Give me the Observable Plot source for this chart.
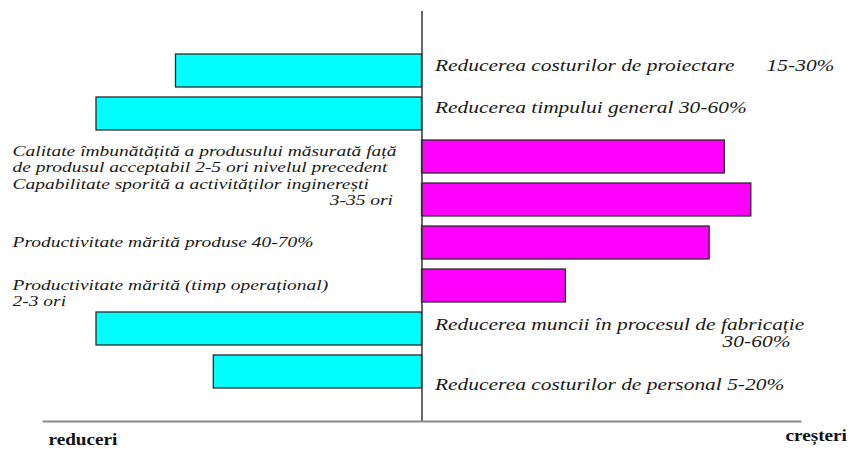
<!DOCTYPE html>
<html>
<head>
<meta charset="utf-8">
<script src="https://cdn.jsdelivr.net/npm/d3@7"></script>
<script src="https://cdn.jsdelivr.net/npm/@observablehq/plot@0.6"></script>
<style>
  html, body { margin: 0; padding: 0; background: #fff; }
</style>
</head>
<body>
<div id="chart"></div>
<script>
// Effects of computer-integrated engineering: reductions (left, cyan) vs. increases (right, magenta)
const labels = [
  "Reducerea costurilor de proiectare\u00a0\u00a0\u00a0\u00a0\u00a0\u00a015-30%",
  "Reducerea timpului general 30-60%",
  "Calitate îmbunătățită a produsului măsurată față\nde produsul acceptabil 2-5 ori nivelul precedent",
  "Capabilitate sporită a activităților inginerești",
  "Productivitate mărită produse 40-70%",
  "Productivitate mărită (timp operațional)\n2-3 ori",
  "Reducerea muncii în procesul de fabricație",
  "Reducerea costurilor de personal 5-20%"
];
// relative magnitude of each effect (negative = reduction, positive = increase)
const values = [-65, -86, 80, 87, 76, 38, -86, -55];
// right-aligned continuation line under some labels
const suffixes = ["", "", "", "3-35 ori", "", "", "30-60%", ""];
const endLabels = ["reduceri", "creșteri"];

// vertical nudges (px) so each label sits where the diagram places it
const labelNudge = [-6, -7, 2, -16, -1, 7, -5, 12];

const rows = labels.map((label, i) => ({label, value: values[i], suffix: suffixes[i]}));

const serif = "Liberation Serif, Times New Roman, serif";
const textColor = "#1a1a1a";
const rightFont = 16.5, leftFont = 15, lineHeight = 1.05;
const italic = {fontFamily: serif, fontStyle: "italic", fill: textColor};

const labelMarks = rows.map((d, i) => d.value < 0
  ? Plot.text([d], {x: 0, y: "label", text: "label", textAnchor: "start", dx: 13, dy: labelNudge[i],
      fontSize: rightFont, lineHeight, ...italic})
  : Plot.text([d], {frameAnchor: "left", y: "label", text: "label", textAnchor: "start", dx: -31, dy: labelNudge[i],
      fontSize: leftFont, lineHeight, ...italic}));

const suffixMarks = rows.map((d, i) => ({d, i})).filter(({d}) => d.suffix).map(({d, i}) => d.value < 0
  ? Plot.text([d], {x: 100, y: "label", text: "suffix", textAnchor: "end", dx: -10,
      dy: labelNudge[i] + rightFont * lineHeight, fontSize: rightFont, ...italic})
  : Plot.text([d], {x: 0, y: "label", text: "suffix", textAnchor: "end", dx: -29,
      dy: labelNudge[i] + leftFont * lineHeight, fontSize: leftFont, ...italic}));

const chart = Plot.plot({
  width: 852,
  height: 449,
  marginTop: 11,
  marginBottom: 28,
  marginLeft: 43,
  marginRight: 52,
  style: {fontFamily: serif, background: "#fff", overflow: "visible"},
  x: {domain: [-100, 100], axis: null},
  y: {domain: labels, range: [42.9, 398.1], padding: 0.235, axis: null},
  marks: [
    Plot.barX(rows.filter(d => d.value < 0), {x: "value", y: "label", fill: "#00ffff", stroke: "#2b2b2b", strokeWidth: 1.3}),
    Plot.barX(rows.filter(d => d.value > 0), {x: "value", y: "label", fill: "#ff00ff", stroke: "#2b2b2b", strokeWidth: 1.3}),
    Plot.ruleX([0], {stroke: "#333", strokeWidth: 1.5}),
    Plot.frame({anchor: "bottom", stroke: "#8a8a8a", strokeWidth: 2}),
    ...labelMarks,
    ...suffixMarks,
    Plot.text([endLabels[0]], {frameAnchor: "bottom-left", text: d => d, textAnchor: "start", dx: 5, dy: 23,
      fontSize: 16, fontWeight: "bold", fontFamily: serif, fill: "#111"}),
    Plot.text([endLabels[1]], {frameAnchor: "bottom-right", text: d => d, textAnchor: "start", dx: -15, dy: 19,
      fontSize: 16, fontWeight: "bold", fontFamily: serif, fill: "#111"})
  ]
});

// the typeface in this diagram is set wide: stretch each label horizontally about its anchor
chart.querySelectorAll("text").forEach(el => {
  const g = el.parentNode;
  const s = g.getAttribute("font-weight") === "bold" ? 1.2 : 1.3;
  el.setAttribute("transform", (el.getAttribute("transform") || "") + ` scale(${s},1)`);
});

document.getElementById("chart").append(chart);
</script>
</body>
</html>
